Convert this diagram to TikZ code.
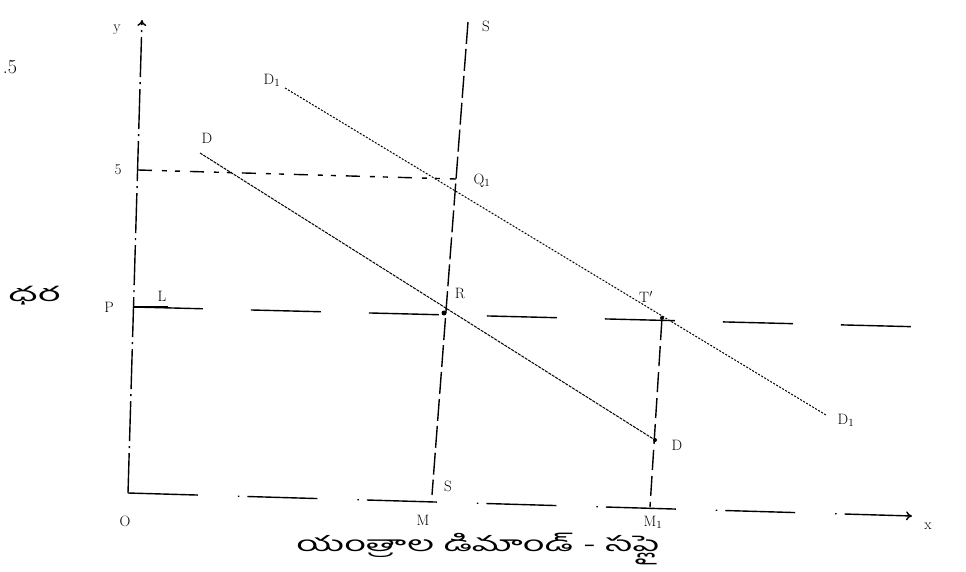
\documentclass[tikz,border=0pt]{standalone}
\usepackage{fontspec}
\usetikzlibrary{arrows.meta}
\newfontfamily\telugu[Script=Telugu]{Hind Guntur}
\begin{document}
\begin{tikzpicture}[x=1pt,y=-1pt,
  lbl/.style={font=\fontsize{15}{15}\selectfont, inner sep=0pt},
  axisline/.style={line width=1.4pt},
  demand/.style={line width=1pt, dash pattern=on 3pt off 1pt},
  supply/.style={line width=1.4pt, dash pattern=on 22pt off 5pt},
  guide/.style={line width=1.4pt, dash pattern=on 70pt off 48pt},
  dot/.style={circle, fill=black, inner sep=0pt, minimum size=5pt},
  tip/.style={-{To[length=6pt,width=9pt]}}]
\useasboundingbox (0,0) rectangle (966,572);
% coordinates
\coordinate (ytop) at (142,20);
\coordinate (O) at (128,493);
\coordinate (xend) at (912,516);
\coordinate (five) at (138,170);
\coordinate (Q1) at (456,179);
\coordinate (Pl) at (133,307);
\coordinate (Pr) at (925,327);
\coordinate (Stop) at (468,22);
\coordinate (Sbot) at (432,495);
\coordinate (Dtop) at (200,153);
\coordinate (D1top) at (285,88);
\coordinate (D1bot) at (826,415);
\coordinate (M1) at (650,507);
\coordinate (Lend) at (168,307);
\node[dot] (R) at (444,313) {};
\node[dot, minimum size=4pt] (T) at (662,318) {};
\node[dot, minimum size=4pt] (Dp) at (655,440) {};
% axes
\draw[axisline, tip, dash pattern=on 40pt off 5pt on 2pt off 5pt] (O) -- (ytop);
\draw[axisline, tip, dash pattern=on 70pt off 40pt on 1.5pt off 8pt] (O) -- (xend);
% guides
\draw[line width=1.4pt, dash pattern=on 14pt off 10pt on 5pt off 8pt on 5pt off 10pt] (five) -- (Q1);
\draw[guide] (Pl) -- (Pr);
\draw[line width=1.4pt, dash pattern=on 20pt off 6pt] (T) -- (M1);
% curves
\draw[supply] (Stop) -- (Sbot);
\draw[demand] (Dtop) -- (Dp);
\draw[demand, dash pattern=on 2pt off 1.5pt] (D1top) -- (D1bot);
\draw[line width=1.4pt] (Pl) -- (Lend);
% labels
\node[lbl] (ly) at (117,30) {y};
\node[lbl] (lx) at (928,526) {x};
\node[lbl] (l5) at (118,170) {5};
\node[font=\fontsize{20}{20}\selectfont, inner sep=0pt] (l05) at (10,67) {.5};
\node[lbl] (lP) at (109,307) {P};
\node[lbl] (lL) at (162,296) {L};
\node[font=\telugu\fontsize{20}{20}\selectfont, inner sep=0pt] (price) at (34,296) {\scalebox{2}[1]{ధర}};
\node[lbl] (lS) at (486,26) {S};
\node[lbl] (lSb) at (448,486) {S};
\node[lbl] (lD) at (207,138) {D};
\node[lbl] (lD1) at (272,80) {D$_1$};
\node[lbl] (lQ1) at (482,181) {Q$_1$};
\node[lbl] (lR) at (460,293) {R};
\node[lbl] (lT) at (646,297) {T$'$};
\node[lbl] (lD1b) at (846,420) {D$_1$};
\node[lbl] (lDb) at (677,445) {D};
\node[lbl] (lO) at (125,521) {O};
\node[lbl] (lM) at (423,520) {M};
\node[lbl] (lM1) at (653,522) {M$_1$};
\node[font=\telugu\fontsize{21}{21}\selectfont, inner sep=0pt] (cap) at (478,549) {\scalebox{1.8}[1]{యంత్రాల డిమాండ్ - సప్లై}};
\end{tikzpicture}
\end{document}
